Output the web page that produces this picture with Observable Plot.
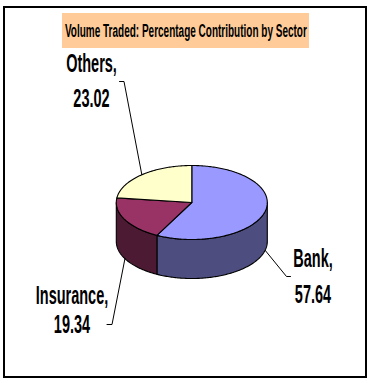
<!DOCTYPE html>
<html><head><meta charset="utf-8">
<script src="https://cdn.jsdelivr.net/npm/d3@7"></script>
<script src="https://cdn.jsdelivr.net/npm/@observablehq/plot@0.6"></script>
<style>
html,body{margin:0;padding:0;background:#fff;}
body{width:372px;height:384px;position:relative;overflow:hidden;font-family:"Liberation Sans",Arial,sans-serif;}
#frame{position:absolute;left:3px;top:6px;width:364px;height:372px;border:2px solid #000;box-sizing:border-box;}
#title{position:absolute;left:62px;top:13px;width:247px;height:35px;background:#FFCC99;display:flex;align-items:center;justify-content:center;overflow:hidden;}
#title span{display:inline-block;white-space:nowrap;font-weight:bold;font-size:18px;line-height:18px;color:#000;transform-origin:center;padding-top:1px;}
#chart{position:absolute;left:0;top:0;}
</style></head><body>
<div id="frame"></div>
<div id="title"><span id="tt"></span></div>
<div id="chart"></div>
<script>
// ---- data ----
const titleText = "Volume Traded: Percentage Contribution by Sector";
const sectors = ["Bank", "Insurance", "Others"];
const values = [57.64, 19.34, 23.02];
const valueLabels = ["57.64", "19.34", "23.02"];

// ---- styles ----
const topColors = ["#9999FF", "#993366", "#FFFFCC"];
const wallColors = ["#4D4D80", "#4D1A33", "#80806A"];

// ---- layout ----
const pie = {cx: 191.3, cy: 202, rx: 75.5, ry: 37, depth: 39};
const labelLayout = {
  Bank:      {x: 312.5, yName: 258,   yValue: 294,   elbow: [286, 276],   end: [290, 276]},
  Insurance: {x: 71.5,  yName: 295.5, yValue: 324.5, elbow: [111.5, 324], end: [106.5, 324]},
  Others:    {x: 91,    yName: 63,    yValue: 98.5,  elbow: [123.5, 81],  end: [119, 81]}
};
const textScaleX = 0.58;

document.getElementById("tt").textContent = titleText;
{
  const sp = document.getElementById("tt");
  const w = sp.getBoundingClientRect().width;
  sp.style.transform = `scaleX(${242 / w})`;
}

const arcs = d3.pie().sort(null)(values);
const pt = (a, dy = 0) => ({x: pie.cx + pie.rx * Math.sin(a), y: pie.cy - pie.ry * Math.cos(a) + dy});
function arcPts(a0, a1, dy) {
  const n = Math.max(2, Math.ceil(Math.abs(a1 - a0) / (Math.PI / 180)));
  return d3.range(n + 1).map(i => pt(a0 + (a1 - a0) * i / n, dy));
}

const topPts = [], wallPts = [], leaderPts = [], labelRows = [];
arcs.forEach((a, i) => {
  const key = sectors[i];
  const c = {x: pie.cx, y: pie.cy};
  [c, ...arcPts(a.startAngle, a.endAngle, 0), c].forEach(p => topPts.push({...p, key}));
  const a0 = Math.max(a.startAngle, Math.PI / 2), a1 = Math.min(a.endAngle, 3 * Math.PI / 2);
  if (a0 < a1) {
    const poly = [...arcPts(a0, a1, 0), ...arcPts(a1, a0, pie.depth)];
    poly.push(poly[0]);
    poly.forEach(p => wallPts.push({...p, key: key + " wall"}));
  }
  const mid = (a.startAngle + a.endAngle) / 2;
  const front = mid > Math.PI / 2 && mid < 3 * Math.PI / 2;
  const L = labelLayout[key];
  [pt(mid, front ? pie.depth : 0), {x: L.elbow[0], y: L.elbow[1]}, {x: L.end[0], y: L.end[1]}]
    .forEach(p => leaderPts.push({...p, key}));
  labelRows.push({x: L.x, y: L.yName, text: key + ","});
  labelRows.push({x: L.x, y: L.yValue, text: valueLabels[i]});
});

const chart = Plot.plot({
  width: 372, height: 384, margin: 0,
  x: {domain: [0, 372], range: [0, 372], axis: null},
  y: {domain: [0, 384], range: [0, 384], axis: null},
  color: {domain: [...sectors, ...sectors.map(s => s + " wall")], range: [...topColors, ...wallColors]},
  style: {background: "transparent", fontFamily: '"Liberation Sans", Arial, sans-serif', overflow: "visible"},
  marks: [
    Plot.line(wallPts, {x: "x", y: "y", z: "key", fill: "key", stroke: "#000", strokeWidth: 1.1, strokeLinejoin: "round"}),
    Plot.line(topPts, {x: "x", y: "y", z: "key", fill: "key", stroke: "#000", strokeWidth: 1.1, strokeLinejoin: "round"}),
    Plot.line(leaderPts, {x: "x", y: "y", z: "key", stroke: "#000", strokeWidth: 1}),
    Plot.text(labelRows, {x: "x", y: "y", text: "text", fontSize: 25, fontWeight: "bold", fill: "#000", textAnchor: "middle"})
  ]
});
document.getElementById("chart").appendChild(chart);

// condense label glyphs (narrow bold face)
d3.select(chart).selectAll("text").each(function() {
  const t = d3.select(this);
  const tr = t.attr("transform");
  if (tr) t.attr("transform", tr + ` scale(${textScaleX},1)`);
  else {
    const x = +t.attr("x") || 0, y = +t.attr("y") || 0;
    t.attr("x", null).attr("y", null).attr("transform", `translate(${x},${y}) scale(${textScaleX},1)`);
  }
});
</script>
</body></html>
